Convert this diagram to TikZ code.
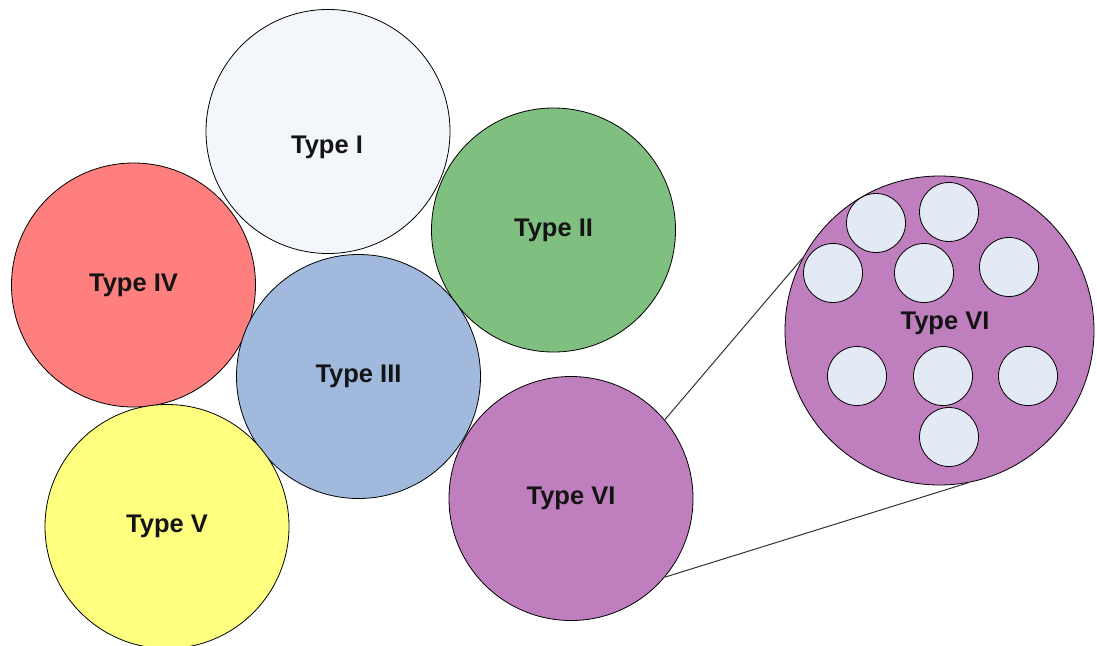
\documentclass[tikz,border=0pt]{standalone}
\usepackage{fontspec}
\setmainfont{Liberation Sans}
\begin{document}
\begin{tikzpicture}[x=1pt,y=-1pt,
  lbl/.style={font=\fontsize{25.5}{30}\selectfont\bfseries,text=black!92},
  cell/.style={circle,draw=black,line width=0.8pt,inner sep=0pt,
    minimum size=244pt,lbl},
  granule/.style={circle,draw=black,line width=0.8pt,inner sep=0pt,
    minimum size=59pt,fill=granulefill},
  zoomline/.style={draw=black!80,line width=1pt}]
\definecolor{typeone}{HTML}{F3F6FB}
\definecolor{typetwo}{HTML}{7FBF7F}
\definecolor{typethree}{HTML}{A0B9DD}
\definecolor{typefour}{HTML}{FF7F7F}
\definecolor{typefive}{HTML}{FFFF7F}
\definecolor{typesix}{HTML}{BF7FBF}
\definecolor{granulefill}{HTML}{E3EAF5}
\useasboundingbox (0,0) rectangle (1097,645);

% cell types
\node[cell,fill=typeone]   (t1) at (328,131.5) {};
\node[lbl] (t1lbl) at (327,147) {Type I};
\node[cell,fill=typefour]  (t4) at (133.5,285) {Type IV};
\node[cell,fill=typetwo]   (t2) at (553.5,230) {Type II};
\node[cell,fill=typethree] (t3) at (358.5,376.5) {Type III};
\node[cell,fill=typefive]  (t5) at (167,526.5) {Type V};
\node[cell,fill=typesix]   (t6) at (571,498.5) {Type VI};

% enlarged view of type VI
\node[cell,fill=typesix,minimum size=309pt] (big) at (939.5,330.5) {};
\draw[zoomline] (t6.40) -- (big.152);
\draw[zoomline] (t6.-40) -- (big.-79);
\node[granule] (g1) at (876,223) {};
\node[granule] (g2) at (949,212) {};
\node[granule] (g3) at (833,273) {};
\node[granule] (g4) at (924,273) {};
\node[granule] (g5) at (1009,267) {};
\node[granule] (g6) at (857,376) {};
\node[granule] (g7) at (943,376) {};
\node[granule] (g8) at (1028,376) {};
\node[granule] (g9) at (949,437) {};
\node[lbl] (biglbl) at (945,323) {Type VI};
\end{tikzpicture}
\end{document}
